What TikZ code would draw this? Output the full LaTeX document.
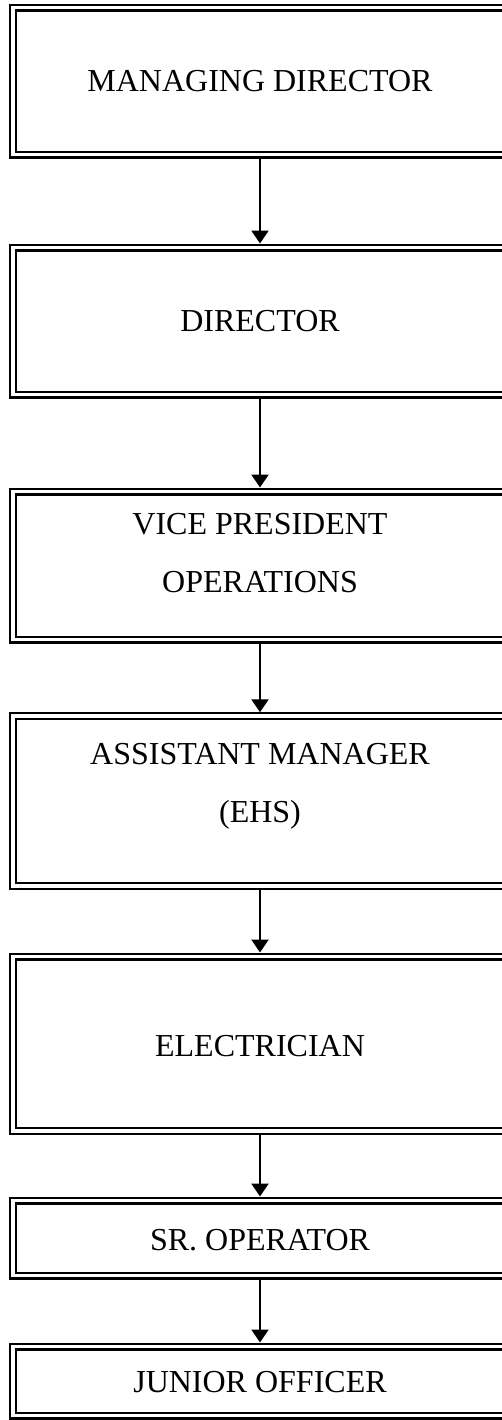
\documentclass[tikz,border=0pt]{standalone}
\usepackage{fontspec}
\setmainfont{Liberation Serif}
\usetikzlibrary{arrows.meta}

\tikzset{
    frame/.style={draw, double, line width=1.1pt, double distance=1.8pt,
        minimum width=247pt, outer sep=2pt, inner sep=0pt},
    title/.style={align=center, font=\fontsize{16}{29}\selectfont, inner sep=0pt},
    link/.style={-{Triangle[width=8.5pt,length=6.5pt]}, line width=1.2pt}
}

\begin{document}
\begin{tikzpicture}[x=0.5pt, y=-0.5pt]
    \clip (0,0) rectangle (502,1420);
    \foreach \n/\yc/\h/\ty/\txt in {
            md/81/147/81/{MANAGING DIRECTOR},
            dir/321/147/321/{DIRECTOR},
            vp/565.5/148/553.5/{VICE PRESIDENT\\OPERATIONS},
            am/801/169.5/786/{ASSISTANT MANAGER\\(EHS)},
            el/1043.75/174.5/1046/{ELECTRICIAN},
            so/1238/75/1240/{SR. OPERATOR},
            jo/1381/69/1382/{JUNIOR OFFICER}} {
        \node[frame, minimum height=\h*0.5pt] (\n) at (260, \yc) {};
        \node[title] (\n-t) at (260, \ty) {\txt};
    };
    \foreach \a/\b in {md/dir, dir/vp, vp/am, am/el, el/so, so/jo} {
        \draw[link] (\a) -- (\b);
    };
\end{tikzpicture}
\end{document}
